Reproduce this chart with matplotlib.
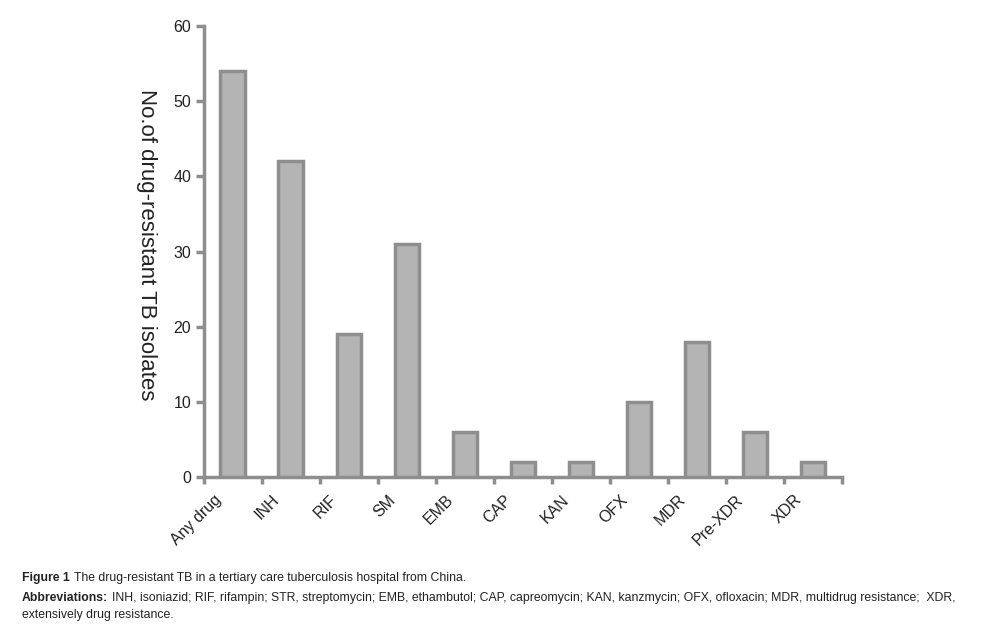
import numpy as np
import matplotlib
matplotlib.use("Agg")
import matplotlib.pyplot as plt

plt.rcParams['font.family'] = ['Liberation Sans', 'DejaVu Sans']

# Data
categories = ["Any drug", "INH", "RIF", "SM", "EMB", "CAP", "KAN", "OFX",
              "MDR", "Pre-XDR", "XDR"]
counts = [54, 42, 19, 31, 6, 2, 2, 10, 18, 6, 2]
yticks = [0, 10, 20, 30, 40, 50, 60]

axis_grey = '#8e8e8e'
text_col = '#222222'

fig = plt.figure(figsize=(10, 6.36), dpi=100)
ax = fig.add_axes([0.2036, 0.25, 0.6384, 0.709])

x = np.arange(len(categories))
ax.bar(x, counts, width=0.42, color='#b4b4b4', edgecolor=axis_grey,
       linewidth=2.5, zorder=3)

ax.set_xlim(-0.5, len(categories) - 0.5)
ax.set_ylim(0, 60)
ax.set_yticks(yticks)
ax.set_xticks(np.arange(len(categories) + 1) - 0.5)
ax.set_xticklabels([])
ax.tick_params(axis='x', direction='out', length=5, width=2.5, color=axis_grey)
ax.tick_params(axis='y', direction='out', length=6, width=2.5, color=axis_grey,
               labelsize=11.5, labelcolor=text_col, pad=3)

for i, lab in enumerate(categories):
    ax.text(i - 0.33, -2.0, lab, rotation=45, ha='right', va='top',
            rotation_mode='anchor', fontsize=11.5, color=text_col)

for side in ['top', 'right']:
    ax.spines[side].set_visible(False)
for side in ['left', 'bottom']:
    ax.spines[side].set_color(axis_grey)
    ax.spines[side].set_linewidth(2.5)

ax.set_ylabel('No.of drug-resistant TB isolates', fontsize=16, color=text_col,
              rotation=270, va='center', labelpad=0)
ax.yaxis.set_label_coords(-0.089, 0.515)

# Caption: bold lead-in followed by regular text
renderer = fig.canvas.get_renderer()


def caption(y_px, bold, rest):
    x0 = 0.022
    y0 = 1 - y_px / 636
    if bold:
        t = fig.text(x0, y0, bold, fontsize=8.8, fontweight='bold',
                     va='center', color=text_col)
        bb = t.get_window_extent(renderer=renderer)
        x0 = bb.x1 / fig.bbox.width + 0.004
    fig.text(x0, y0, rest, fontsize=8.8, va='center', color=text_col)


caption(578, 'Figure 1', 'The drug-resistant TB in a tertiary care tuberculosis hospital from China.')
caption(598, 'Abbreviations:', 'INH, isoniazid; RIF, rifampin; STR, streptomycin; EMB, ethambutol; CAP, capreomycin; KAN, kanzmycin; OFX, ofloxacin; MDR, multidrug resistance;  XDR,')
caption(615, None, 'extensively drug resistance.')

fig.savefig('out.png', dpi=100)
